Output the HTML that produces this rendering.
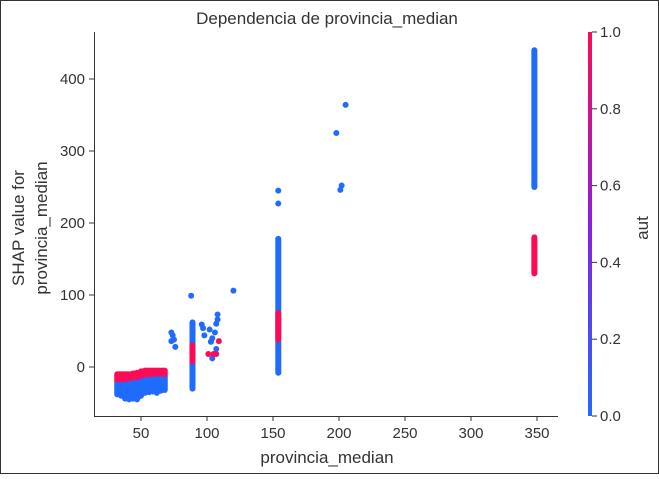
<!DOCTYPE html>
<html><head><meta charset="utf-8">
<style>
body{margin:0;background:#fff;width:659px;height:474px;overflow:hidden;font-family:"Liberation Sans","DejaVu Sans",sans-serif}
svg text{fill:#333}
</style></head><body>
<svg id="chart" width="659" height="474" xmlns="http://www.w3.org/2000/svg">
<defs><linearGradient id="cb" x1="0" y1="1" x2="0" y2="0">
<stop offset="0" stop-color="#1f6bff"/><stop offset="0.5" stop-color="#8a1fe0"/><stop offset="1" stop-color="#ff0a54"/></linearGradient></defs>
<rect x="0.5" y="0.5" width="658" height="473" fill="none" stroke="#333"/>
<text x="327" y="24" font-size="17" text-anchor="middle">Dependencia de provincia_median</text>
<g id="marks"></g>
<line x1="94.5" y1="32" x2="94.5" y2="416.5" stroke="#333"/>
<line x1="94" y1="416.5" x2="558" y2="416.5" stroke="#333"/>
<g id="ticks"></g>
<text x="327" y="463" font-size="17" text-anchor="middle">provincia_median</text>
<text transform="translate(24,228) rotate(-90)" font-size="17" text-anchor="middle"><tspan x="0" dy="0">SHAP value for</tspan><tspan x="0" dy="23">provincia_median</tspan></text>
<rect x="588" y="32" width="4" height="384" fill="url(#cb)"/>
<g id="cbticks"></g>
<text transform="translate(648,228) rotate(-90)" font-size="17" text-anchor="middle">aut</text>
</svg>
<script>
const xTicks=[50,100,150,200,250,300,350];
const yTicks=[0,100,200,300,400];
const cbTicks=[0,0.2,0.4,0.6,0.8,1.0];
// vertical stacks: x value, min shap, max shap, aut (0 blue / 1 red)
const stackX=[348,348,154,154,89,89];
const stackMin=[250,130,-8,38,-30,8];
const stackMax=[440,180,178,75,62,30];
const stackAut=[0,1,0,1,0,1];
// low cluster columns
const clusterX=[32,35,38,41,44,47,50,53,56,59,62,65,68];
const clusterBlueMin=[-38,-40,-44,-45,-44,-45,-40,-36,-35,-34,-36,-33,-32];
const clusterBlueMax=[-20,-20,-20,-20,-19,-18,-16,-12,-12,-12,-12,-12,-12];
const clusterRedMin=[-18,-18,-18,-17,-16,-15,-14,-12,-11,-11,-10,-10,-10];
const clusterRedMax=[-10,-10,-10,-10,-9,-8,-6,-5,-5,-5,-5,-5,-5];
// individual points
const ptX=[120,198,201,202,205,154,154,88,73,74,75,76,73,96,97,98,102,103,104,105,106,107,108,108,107,101,107,109,103,104];
const ptY=[106,325,246,252,364,245,227,99,48,44,38,28,36,59,54,44,52,35,12,18,48,60,73,66,25,18,18,36,35,40];
const ptAut=[0,0,0,0,0,0,0,0,0,0,0,0,0,0,0,0,0,0,0,1,0,0,0,0,0,1,1,1,0,0];
const X=v=>75+1.32*v, Y=v=>367-0.72*v, C=a=>a>0.5?'#ff0a54':'#1f6bff';
const NS='http://www.w3.org/2000/svg';
const marks=document.getElementById('marks'),ticks=document.getElementById('ticks'),cbt=document.getElementById('cbticks');
function dot(x,y,col,name){const c=document.createElementNS(NS,'circle');c.setAttribute('cx',x);c.setAttribute('cy',y);c.setAttribute('r',3);c.setAttribute('fill',col);


marks.appendChild(c);}
function bar(x,y1,y2,col,name){const r=document.createElementNS(NS,'rect');r.setAttribute('x',x-3);r.setAttribute('y',Math.min(y1,y2)-3);r.setAttribute('width',6);r.setAttribute('height',Math.abs(y2-y1)+6);r.setAttribute('rx',3);r.setAttribute('fill',col);


marks.appendChild(r);}
for(let i=0;i<clusterX.length;i++){
 bar(X(clusterX[i]),Y(clusterBlueMin[i]),Y(clusterBlueMax[i]),C(0),'cluster-blue');
 bar(X(clusterX[i]),Y(clusterRedMin[i]),Y(clusterRedMax[i]),C(1),'cluster-red');
 if(i<clusterX.length-1){bar(X(clusterX[i])+2,Y(clusterBlueMin[i]+4),Y(clusterBlueMax[i]),C(0),'cluster-blue');bar(X(clusterX[i])+2,Y(clusterRedMin[i]),Y(clusterRedMax[i]),C(1),'cluster-red');}
}
for(let i=0;i<stackX.length;i++)bar(X(stackX[i]),Y(stackMin[i]),Y(stackMax[i]),C(stackAut[i]),'stack');
for(let i=0;i<ptX.length;i++)dot(X(ptX[i]),Y(ptY[i]),C(ptAut[i]),'point');
function txt(p,x,y,s,anchor,name){const t=document.createElementNS(NS,'text');t.setAttribute('x',x);t.setAttribute('y',y);t.setAttribute('font-size',15);t.setAttribute('text-anchor',anchor);t.textContent=s;


p.appendChild(t);}
function ln(p,x1,y1,x2,y2,name){const l=document.createElementNS(NS,'line');l.setAttribute('x1',x1);l.setAttribute('y1',y1);l.setAttribute('x2',x2);l.setAttribute('y2',y2);l.setAttribute('stroke','#333');


p.appendChild(l);}
xTicks.forEach(v=>{ln(ticks,X(v),416,X(v),421,'x-tick');txt(ticks,X(v),438,v,'middle','x-tick-label');});
yTicks.forEach(v=>{ln(ticks,89,Y(v),94,Y(v),'y-tick');txt(ticks,85,Y(v)+5,v,'end','y-tick-label');});
cbTicks.forEach(v=>{const y=416-384*v;ln(cbt,592,y,597,y,'colorbar-tick');txt(cbt,600,y+5,v.toFixed(1),'start','colorbar-tick-label');});
</script>
</body></html>
